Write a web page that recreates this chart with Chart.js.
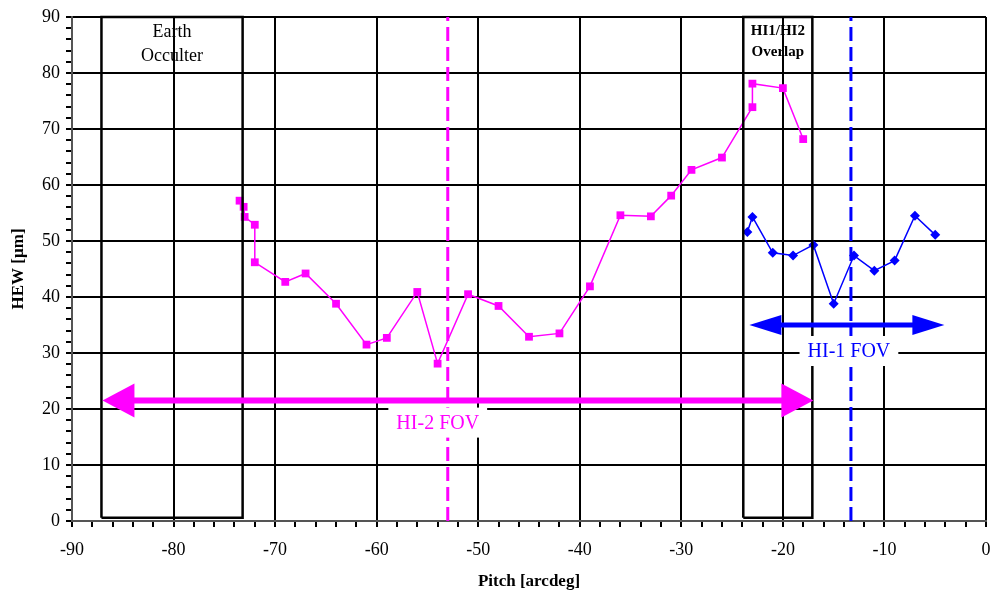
<!DOCTYPE html>
<html>
<head>
<meta charset="utf-8">
<script src="https://cdn.jsdelivr.net/npm/chart.js@4/dist/chart.umd.min.js"></script>
<style>
  html, body { margin: 0; padding: 0; background: #fff; }
  #wrap { width: 992px; height: 596px; }
</style>
</head>
<body>
<div id="wrap"><canvas id="hewChart"></canvas></div>
<script>
// HI-2 measurements (pitch in arcdeg, HEW in µm)
const pitchHI2 = [-73.5, -73.1, -73.0, -72.0, -72.0, -69.0, -67.0, -64.0, -61.0, -59.0, -56.0, -54.0, -51.0,
                  -48.0, -45.0, -42.0, -39.0, -36.0, -33.0, -31.0, -29.0, -26.0, -23.0, -23.0, -20.0, -18.0];
const hewHI2 = [57.2, 56.1, 54.3, 52.9, 46.2, 42.7, 44.2, 38.8, 31.5, 32.7, 40.9, 28.1, 40.5,
                38.4, 32.9, 33.5, 41.9, 54.6, 54.4, 58.1, 62.7, 64.9, 73.9, 78.1, 77.3, 68.2];

// HI-1 measurements
const pitchHI1 = [-23.5, -23.0, -21.0, -19.0, -17.0, -15.0, -13.0, -11.0, -9.0, -7.0, -5.0];
const hewHI1 = [51.6, 54.3, 47.9, 47.4, 49.3, 38.8, 47.4, 44.7, 46.5, 54.5, 51.1];

// annotation geometry in data units
const occulterBox = [-87.1, -73.2];
const overlapBox = [-23.9, -17.1];
const boxBottom = 0.6;
const hi2Centre = -53.0;
const hi1Centre = -13.3;
const hi2Fov = [-87.0, -17.0, 21.5];
const hi1Fov = [-23.3, -4.1, 35.0];

const MAGENTA = '#ff00ff';
const BLUE = '#0000ff';
const SERIF = '"Liberation Serif", "Times New Roman", serif';

function boxPoints(xs) {
  return [
    { x: xs[0], y: boxBottom }, { x: xs[0], y: 90 },
    { x: xs[1], y: 90 }, { x: xs[1], y: boxBottom }, { x: xs[0], y: boxBottom }
  ];
}

function outline(points, color, width, dash) {
  return {
    type: 'line', data: points, borderColor: color, borderWidth: width,
    borderDash: dash || [], pointRadius: 0, fill: false, tension: 0, clip: false
  };
}

function arrowHead(ctx, tipX, y, dir, len, half, color) {
  ctx.beginPath();
  ctx.moveTo(tipX, y);
  ctx.lineTo(tipX - dir * len, y - half);
  ctx.lineTo(tipX - dir * len, y + half);
  ctx.closePath();
  ctx.fillStyle = color;
  ctx.fill();
}

function boxedLabel(ctx, text, cx, cy, color, padX, h) {
  ctx.font = '20px ' + SERIF;
  const w = ctx.measureText(text).width + padX * 2;
  ctx.fillStyle = '#fff';
  ctx.fillRect(cx - w / 2, cy - h / 2, w, h);
  ctx.fillStyle = color;
  ctx.textAlign = 'center';
  ctx.textBaseline = 'middle';
  ctx.fillText(text, cx, cy + 1);
}

const annotations = {
  id: 'annotations',
  afterDatasetsDraw(chart) {
    const ctx = chart.ctx;
    const xs = chart.scales.x, ys = chart.scales.y;
    ctx.save();

    // arrow shafts
    ctx.lineCap = 'butt';
    let y2 = ys.getPixelForValue(hi2Fov[2]);
    let l2 = xs.getPixelForValue(hi2Fov[0]), r2 = xs.getPixelForValue(hi2Fov[1]);
    ctx.strokeStyle = MAGENTA; ctx.lineWidth = 6;
    ctx.beginPath(); ctx.moveTo(l2 + 20, y2); ctx.lineTo(r2 - 20, y2); ctx.stroke();
    arrowHead(ctx, l2, y2, -1, 32, 17, MAGENTA);
    arrowHead(ctx, r2, y2, 1, 32, 17, MAGENTA);

    let y1 = ys.getPixelForValue(hi1Fov[2]);
    let l1 = xs.getPixelForValue(hi1Fov[0]), r1 = xs.getPixelForValue(hi1Fov[1]);
    ctx.strokeStyle = BLUE; ctx.lineWidth = 5;
    ctx.beginPath(); ctx.moveTo(l1 + 20, y1); ctx.lineTo(r1 - 20, y1); ctx.stroke();
    arrowHead(ctx, l1, y1, -1, 32, 10, BLUE);
    arrowHead(ctx, r1, y1, 1, 32, 10, BLUE);

    // FOV labels on white patches
    boxedLabel(ctx, 'HI-2 FOV', xs.getPixelForValue(hi2Centre) - 10, y2 + 22, MAGENTA, 8, 30);
    boxedLabel(ctx, 'HI-1 FOV', xs.getPixelForValue(hi1Centre) - 2, y1 + 26, BLUE, 8, 30);

    // box captions
    ctx.fillStyle = '#000';
    ctx.textAlign = 'center';
    ctx.textBaseline = 'middle';
    ctx.font = '18px ' + SERIF;
    const oc = xs.getPixelForValue((occulterBox[0] + occulterBox[1]) / 2);
    ctx.fillText('Earth', oc, ys.top + 15);
    ctx.fillText('Occulter', oc, ys.top + 39);
    ctx.font = 'bold 15px ' + SERIF;
    const ov = xs.getPixelForValue((overlapBox[0] + overlapBox[1]) / 2);
    ctx.fillText('HI1/HI2', ov, ys.top + 14);
    ctx.fillText('Overlap', ov, ys.top + 35);
    ctx.restore();
  }
};

const majorGrid = (c) => (Math.round(c.tick.value) % 10 === 0 ? '#000' : 'rgba(0,0,0,0)');

new Chart(document.getElementById('hewChart'), {
  type: 'scatter',
  data: {
    datasets: [
      outline(boxPoints(occulterBox), '#000', 2.5),
      outline(boxPoints(overlapBox), '#000', 2.5),
      outline([{ x: hi2Centre, y: 0 }, { x: hi2Centre, y: 90 }], MAGENTA, 3, [14, 6]),
      outline([{ x: hi1Centre, y: 0 }, { x: hi1Centre, y: 90 }], BLUE, 3, [14, 6]),
      {
        label: 'HI-2',
        data: pitchHI2.map((p, i) => ({ x: p, y: hewHI2[i] })),
        showLine: true, borderColor: MAGENTA, borderWidth: 1.5,
        backgroundColor: MAGENTA, pointStyle: 'rect', pointRadius: 5.5,
        pointBorderWidth: 0, tension: 0
      },
      {
        label: 'HI-1',
        data: pitchHI1.map((p, i) => ({ x: p, y: hewHI1[i] })),
        showLine: true, borderColor: BLUE, borderWidth: 1.5,
        backgroundColor: BLUE, pointStyle: 'rectRot', pointRadius: 5,
        pointBorderWidth: 0, tension: 0
      }
    ]
  },
  options: {
    responsive: true,
    maintainAspectRatio: false,
    animation: false,
    layout: { padding: { top: 17, right: 6, left: 0, bottom: 4 } },
    plugins: { legend: { display: false }, tooltip: { enabled: false } },
    scales: {
      x: {
        type: 'linear', min: -90, max: 0,
        afterFit: (s) => { s.height = 71; s.paddingRight = 0; s.paddingLeft = 0; },
        border: { color: '#555', width: 2 },
        grid: { color: majorGrid, lineWidth: 2, tickColor: '#000', tickLength: 6, drawOnChartArea: true },
        ticks: {
          stepSize: 2, autoSkip: false, maxRotation: 0, padding: 12, color: '#000',
          font: { family: SERIF, size: 18 },
          callback: (v) => (Math.round(v) % 10 === 0 ? String(Math.round(v)) : '')
        },
        title: {
          display: true, text: 'Pitch [arcdeg]', color: '#000',
          font: { family: SERIF, size: 17, weight: 'bold' }, padding: { top: 10, bottom: 0 }
        }
      },
      y: {
        type: 'linear', min: 0, max: 90,
        afterFit: (s) => { s.width = 72; s.paddingTop = 0; s.paddingBottom = 0; },
        border: { color: '#555', width: 2 },
        grid: { color: majorGrid, lineWidth: 2, tickColor: '#000', tickLength: 6 },
        ticks: {
          stepSize: 2, autoSkip: false, padding: 6, color: '#000',
          font: { family: SERIF, size: 18 },
          callback: (v) => (Math.round(v) % 10 === 0 ? String(Math.round(v)) : '')
        },
        title: {
          display: true, text: 'HEW [µm]', color: '#000',
          font: { family: SERIF, size: 17, weight: 'bold' }, padding: { top: 8, bottom: 0 }
        }
      }
    }
  },
  plugins: [annotations]
});
</script>
</body>
</html>
